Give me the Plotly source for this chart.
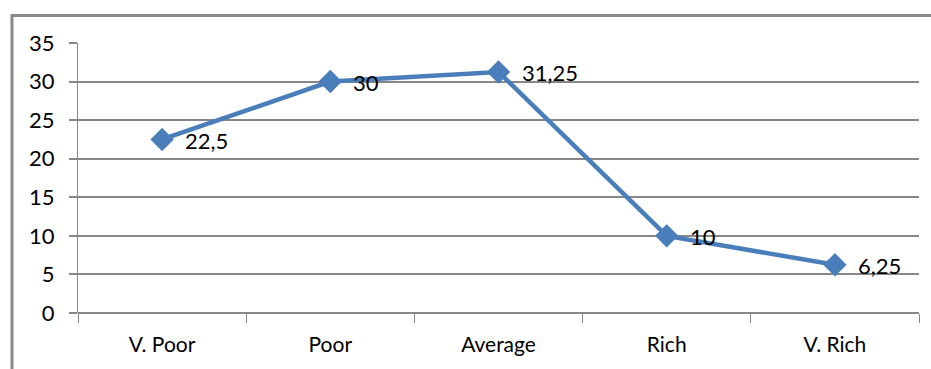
import plotly.graph_objects as go

# Share of households by wealth group
categories = ["V. Poor", "Poor", "Average", "Rich", "V. Rich"]
values = [22.5, 30, 31.25, 10, 6.25]
value_labels = ["22,5", "30", "31,25", "10", "6,25"]
y_ticks = [0, 5, 10, 15, 20, 25, 30, 35]

LINE_BLUE = "#4A7EBB"
GRID_GRAY = "#878787"
FONT = "Lato, 'Open Sans', sans-serif"

fig = go.Figure()
fig.add_trace(go.Scatter(
    x=categories,
    y=values,
    mode="lines+markers",
    line=dict(color=LINE_BLUE, width=4.5),
    marker=dict(symbol="diamond", size=18, color=LINE_BLUE),
    hoverinfo="x+y",
    showlegend=False,
))

# Value labels to the right of each point
for cat, val, lab in zip(categories, values, value_labels):
    fig.add_annotation(
        x=cat, y=val, text=lab, showarrow=False,
        xanchor="left", yanchor="middle", xshift=21, yshift=-1,
        font=dict(family=FONT, size=22, color="#000000"),
    )

# Outer chart frame
fig.add_shape(
    type="rect", xref="paper", yref="paper",
    x0=-0.0785, x1=1.05, y0=-0.3, y1=1.102,
    line=dict(color="#898989", width=3), fillcolor="rgba(0,0,0,0)",
    layer="below",
)

fig.update_layout(
    width=931, height=369,
    margin=dict(l=78, r=12, t=43, b=56),
    paper_bgcolor="white", plot_bgcolor="white",
    font=dict(family=FONT, size=21, color="#000000"),
    xaxis=dict(
        type="category",
        categoryorder="array", categoryarray=categories,
        range=[-0.5, len(categories) - 0.5],
        showgrid=False, zeroline=False,
        showline=False,
        ticks="outside", tickson="boundaries",
        ticklen=9, tickwidth=1, tickcolor=GRID_GRAY,
        ticklabelstandoff=17,
        tickfont=dict(family=FONT, size=21),
    ),
    yaxis=dict(
        range=[0, 35],
        tickmode="array", tickvals=y_ticks,
        showgrid=True, gridcolor=GRID_GRAY, gridwidth=2,
        zeroline=True, zerolinecolor=GRID_GRAY, zerolinewidth=2,
        showline=True, linecolor=GRID_GRAY, linewidth=1,
        ticks="outside", ticklen=8, tickwidth=2, tickcolor=GRID_GRAY,
        ticklabelstandoff=10,
        tickfont=dict(family=FONT, size=22),
    ),
)

fig.write_html("out.html")
